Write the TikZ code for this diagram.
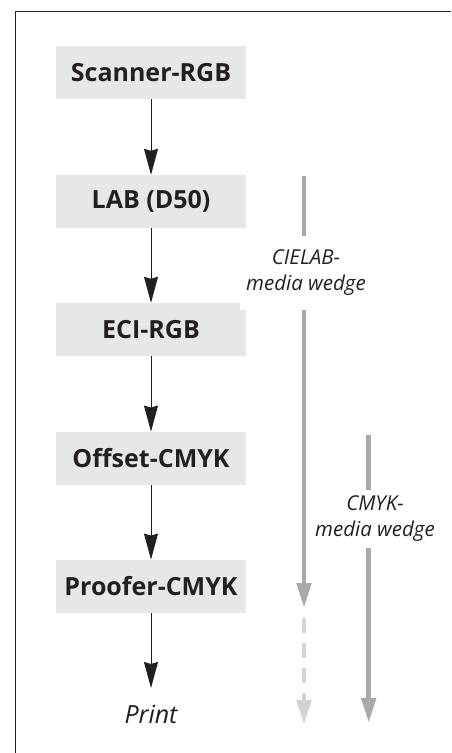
\documentclass[tikz,border=0pt]{standalone}
\usepackage{fontspec}
\setmainfont{Open Sans}
\usetikzlibrary{arrows.meta}
\definecolor{boxgray}{HTML}{E6E7E8}
\definecolor{wedgegray}{HTML}{A7A9AC}
\definecolor{wedgelight}{HTML}{D1D3D4}
\definecolor{textdark}{HTML}{231F20}
\begin{document}
\begin{tikzpicture}[x=1pt,y=-1pt,
  stagebox/.style={fill=boxgray,minimum width=190pt,minimum height=53pt,inner sep=0pt,
    text=textdark,font=\fontsize{25}{28}\selectfont\bfseries},
  flow/.style={draw=textdark,line width=0.9pt,-{Stealth[length=26pt,width=14pt,inset=2pt]}},
  wedge/.style={draw=wedgegray,line width=4.8pt,-{Triangle[length=25pt,width=14pt]}},
  wedgedash/.style={draw=wedgelight,line width=4.8pt,dash pattern=on 15pt off 10pt,
    -{Triangle[length=25pt,width=14pt]}},
  wlabel/.style={fill=white,align=center,text=textdark,inner xsep=4pt,
    font=\fontsize{20.5}{26}\selectfont\itshape}]
\useasboundingbox (0,0) rectangle (451,753);
\fill[white] (0,0) rectangle (451,753);
% frame (top and left)
\draw[line width=1.2pt,textdark] (451,11.5) -- (15.5,11.5) -- (15.5,753);

% stages
\node[stagebox] (scan) at (151,72.3) {Scanner-RGB};
\node[stagebox] (lab) at (151,201.5) {LAB (D50)};
\node[stagebox] (eci) at (151,329.5) {ECI-RGB};
\node[stagebox] (off) at (151,458.3) {Offset-CMYK};
\node[stagebox] (proof) at (151,586.3) {Proofer-CMYK};
\node[anchor=base,text=textdark,inner sep=0pt,font=\fontsize{25}{28}\selectfont\itshape] (print) at (151,723) {Print};
\coordinate (ptop) at (151,688);

\draw[flow] (scan) -- (lab);
\draw[flow] (lab) -- (eci);
\draw[flow] (eci) -- (off);
\draw[flow] (off) -- (proof);
\draw[flow] (proof.south) -- (ptop);

% CIELAB media wedge
\coordinate (c1a) at (304,176);
\coordinate (c1b) at (304,608);
\coordinate (c1c) at (304,618);
\coordinate (c1d) at (304,725);
\draw[wedge] (c1a) -- (c1b);
\draw[wedgedash] (c1c) -- (c1d);
\node[wlabel,minimum height=74pt,minimum width=132pt] (l1) at (306,273) {CIELAB-\\media wedge};

% CMYK media wedge
\coordinate (c2a) at (368.7,435);
\coordinate (c2b) at (368.7,723);
\draw[wedge] (c2a) -- (c2b);
\node[wlabel,minimum height=58pt,inner ysep=0pt] (l2) at (375,519) {CMYK-\\media wedge};
\end{tikzpicture}
\end{document}
